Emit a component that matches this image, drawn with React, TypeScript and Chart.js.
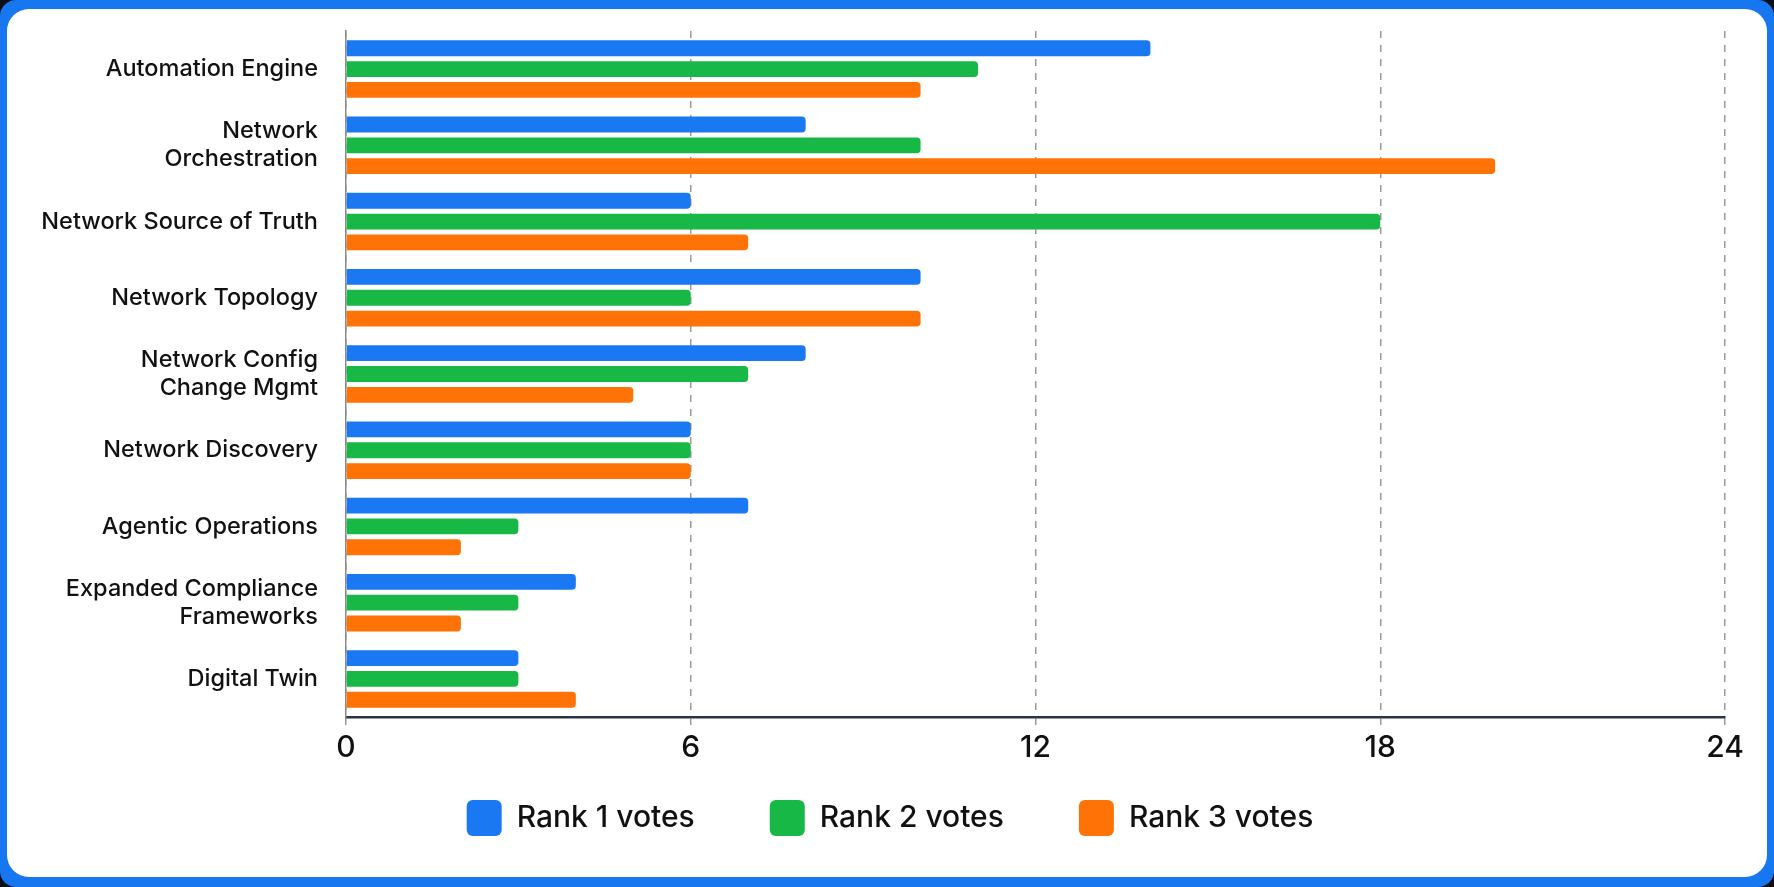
import { useEffect, useRef } from 'react'
import { Chart, registerables } from 'chart.js'

Chart.register(...registerables)

const categories = [
  'Automation Engine',
  ['Network', 'Orchestration'],
  'Network Source of Truth',
  'Network Topology',
  ['Network Config', 'Change Mgmt'],
  'Network Discovery',
  'Agentic Operations',
  ['Expanded Compliance', 'Frameworks'],
  'Digital Twin',
]
const rank1 = [14, 8, 6, 10, 8, 6, 7, 4, 3]
const rank2 = [11, 10, 18, 6, 7, 6, 3, 3, 3]
const rank3 = [10, 20, 7, 10, 5, 6, 2, 2, 4]
const xTicks = [0, 6, 12, 18, 24]

const BLUE = '#1a78f2'
const GREEN = '#17b845'
const ORANGE = '#ff7306'

// legend sits closer to the axis (and a bit right) compared to Chart.js default placement
const legendTweak = {
  id: 'legendTweak',
  beforeLayout(c: any) {
    const lg = c.legend
    if (lg && !lg._tweaked) {
      const fit = lg.fit.bind(lg)
      lg.fit = () => {
        fit()
        lg.height = 111
      }
      lg._tweaked = true
    }
  },
  afterLayout(c: any) {
    const lg = c.legend
    if (!lg) return
    lg.top -= 41
    lg.bottom -= 41
    lg.left += 24
    lg.right += 24
  },
}

export default function App() {
  const ref = useRef<HTMLCanvasElement | null>(null)

  useEffect(() => {
    document.body.style.margin = '0'
    document.body.style.background = '#0b0f1a'
    if (!ref.current) return
    const ctx = ref.current.getContext('2d')
    if (!ctx) return
    const bar = { borderRadius: 4, categoryPercentage: 0.82, barPercentage: 0.76 }
    const chart = new Chart(ctx, {
      type: 'bar',
      data: {
        labels: categories,
        datasets: [
          { label: 'Rank 1 votes', data: rank1, backgroundColor: BLUE, ...bar },
          { label: 'Rank 2 votes', data: rank2, backgroundColor: GREEN, ...bar },
          { label: 'Rank 3 votes', data: rank3, backgroundColor: ORANGE, ...bar },
        ],
      },
      options: {
        indexAxis: 'y',
        animation: false,
        responsive: false,
        layout: { padding: { top: 22, right: 42, bottom: 0, left: 0 } },
        font: { family: 'Inter' },
        plugins: {
          tooltip: { enabled: false },
          legend: {
            position: 'bottom',
            labels: {
              boxWidth: 35,
              boxHeight: 36,
              useBorderRadius: true,
              borderRadius: 6,
              padding: 75,
              color: '#111',
              font: { family: 'Inter', size: 30, weight: 500 },
            },
          },
        },
        scales: {
          x: {
            min: 0,
            max: 24,
            afterBuildTicks: (s: any) => {
              s.ticks = xTicks.map((v) => ({ value: v }))
            },
            afterFit: (s: any) => {
              s.height = 49
            },
            grid: {
              color: '#9a9a9a',
              lineWidth: 1.5,
              tickLength: 8,
            },
            border: { display: true, color: '#2b3440', width: 2.5, dash: [7, 7] },
            ticks: {
              color: '#111',
              padding: 5,
              font: { family: 'Inter', size: 30, weight: 500 },
            },
          },
          y: {
            afterFit: (s: any) => {
              s.width = 339
              s.paddingTop = 0
              s.paddingBottom = 0
            },
            grid: { display: false },
            border: { display: true, color: '#8a8a8a', width: 1.5 },
            ticks: {
              color: '#111',
              padding: 20,
              font: { family: 'Inter', size: 23.5, weight: 500 },
            },
          },
        },
      },
      plugins: [legendTweak],
    })
    return () => chart.destroy()
  }, [])

  return (
    <div style={{ width: 1774, height: 887, background: '#1677f0', position: 'relative', borderRadius: 16 }}>
      <div
        style={{
          position: 'absolute',
          left: 7,
          top: 9,
          width: 1760,
          height: 868,
          background: '#fff',
          borderRadius: 22,
          overflow: 'hidden',
        }}
      >
        <canvas ref={ref} width={1760} height={868} style={{ width: 1760, height: 868, display: 'block' }} />
      </div>
    </div>
  )
}
